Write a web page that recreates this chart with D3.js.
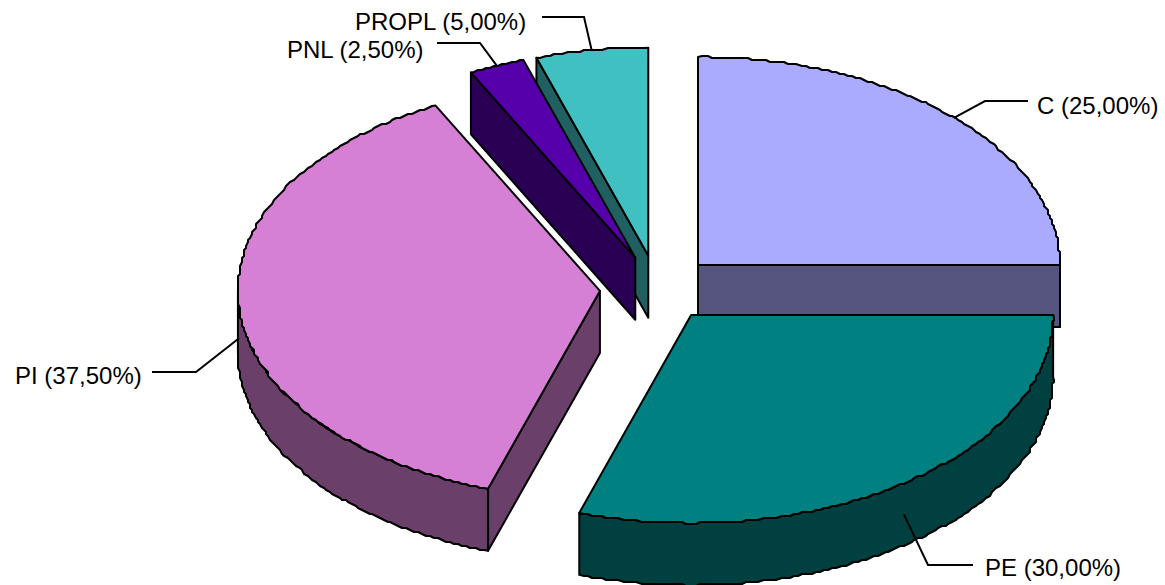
<!DOCTYPE html>
<html>
<head>
<meta charset="utf-8">
<script src="https://cdn.jsdelivr.net/npm/d3@7"></script>
<style>
    html, body { margin: 0; padding: 0; background: #fff; overflow: hidden; }
    text { font-family: "Liberation Sans", Arial, sans-serif; font-size: 24px; fill: #000; }
</style>
</head>
<body>
<div id="pie-chart"></div>
<script>
const categories = ['C', 'PE', 'PI', 'PNL', 'PROPL'];
const shares = [25, 30, 37.5, 2.5, 5];
const shareLabels = ['25,00%', '30,00%', '37,50%', '2,50%', '5,00%'];
const topColors = ['#aaaaff', '#008080', '#d580d5', '#5500aa', '#40c0c0'];
const wallColors = ['#55557f', '#004040', '#6a406a', '#2a0055', '#206060'];

const drawOrder = ['PROPL', 'PNL', 'C', 'PI', 'PE'];

// leader elbows and label anchors, by category
const labelLayout = {
    C:     { elbow: [985, 101], end: [1028, 101], text: [1037, 114], onWall: false },
    PE:    { elbow: [928, 565], end: [973, 565],  text: [985, 576],  onWall: true },
    PI:    { elbow: [196, 372], end: [152, 372],  text: [15, 384],   onWall: true },
    PNL:   { elbow: [480, 43],  end: [437, 43],   text: [287, 58],   onWall: false },
    PROPL: { elbow: [584, 17],  end: [542, 17],   text: [355, 30],   onWall: false }
};

const width = 1165, height = 585;
const explode = 0.159;
const depth = 62;
const tau = 2 * Math.PI;

// pie space is -1..1 on both axes, tilted by squashing y
const xScale = d3.scaleLinear().domain([-1, 1]).range([295.3, 1019.3]);
const yScale = d3.scaleLinear().domain([-1, 1]).range([80.3, 496.3]);

const pie = d3.pie().sort(null).value(d => d.share);
const slices = pie(categories.map((c, i) => ({
    name: c,
    share: shares[i],
    label: `${c} (${shareLabels[i]})`,
    top: topColors[i],
    wall: wallColors[i]
})));

const svg = d3.select('#pie-chart').append('svg')
    .attr('width', width)
    .attr('height', height);

const line = d3.line();

function snap(v) {
    return Math.round(v / 2) * 2;
}

function apexOf(s) {
    const mid = (s.startAngle + s.endAngle) / 2;
    return [explode * Math.sin(mid), -explode * Math.cos(mid)];
}

function rimPoint(s, angle) {
    const a = apexOf(s);
    return [xScale(a[0] + Math.sin(angle)), yScale(a[1] - Math.cos(angle))];
}

function apexPoint(s) {
    const a = apexOf(s);
    return [xScale(a[0]), yScale(a[1])];
}

// coarse polyline along the rim, the outline is stepped in the original
function rim(s, from, to) {
    const steps = Math.max(1, Math.round((to - from) / (tau / 500)));
    const pts = [];
    for (let i = 0; i <= steps; i++) {
        const p = rimPoint(s, from + (to - from) * i / steps);
        if (i === 0 || i === steps) {
            pts.push(p);
        } else {
            const q = [snap(p[0]), snap(p[1])];
            const last = pts[pts.length - 1];
            if (q[0] !== last[0] || q[1] !== last[1]) pts.push(q);
        }
    }
    return pts;
}

function shifted(pts) {
    return pts.map(p => [p[0], p[1] + depth]);
}

function drawFace(pts, color) {
    svg.append('path')
        .attr('d', line(pts) + 'Z')
        .attr('fill', color)
        .attr('stroke', '#000')
        .attr('stroke-width', 2)
        .attr('stroke-linejoin', 'round');
}

drawOrder.forEach(name => {
    const s = slices.find(d => d.data.name === name);
    const apex = apexPoint(s);

    // cut faces only when they look towards the viewer
    if (Math.sin(s.startAngle) < -1e-6) {
        const edge = [apex, rimPoint(s, s.startAngle)];
        drawFace(edge.concat(shifted(edge).reverse()), s.data.wall);
    }
    if (Math.sin(s.endAngle) > 1e-6) {
        const edge = [apex, rimPoint(s, s.endAngle)];
        drawFace(edge.concat(shifted(edge).reverse()), s.data.wall);
    }

    // outer wall, front half of the ellipse only
    const from = Math.max(s.startAngle, Math.PI / 2);
    const to = Math.min(s.endAngle, 3 * Math.PI / 2);
    if (to > from) {
        const arc = rim(s, from, to);
        drawFace(arc.concat(shifted(arc).reverse()), s.data.wall);
    }

    // top
    drawFace([apex].concat(rim(s, s.startAngle, s.endAngle)), s.data.top);
});

// Labels
slices.forEach(s => {
    const layout = labelLayout[s.data.name];
    const mid = (s.startAngle + s.endAngle) / 2;
    const p = rimPoint(s, mid);
    const start = [p[0], p[1] + (layout.onWall ? depth / 2 : 0)];

    svg.append('path')
        .attr('d', line([start, layout.elbow, layout.end]))
        .attr('fill', 'none')
        .attr('stroke', '#000')
        .attr('stroke-width', 2);

    svg.append('text')
        .attr('x', layout.text[0])
        .attr('y', layout.text[1])
        .text(s.data.label);
});
</script>
</body>
</html>
